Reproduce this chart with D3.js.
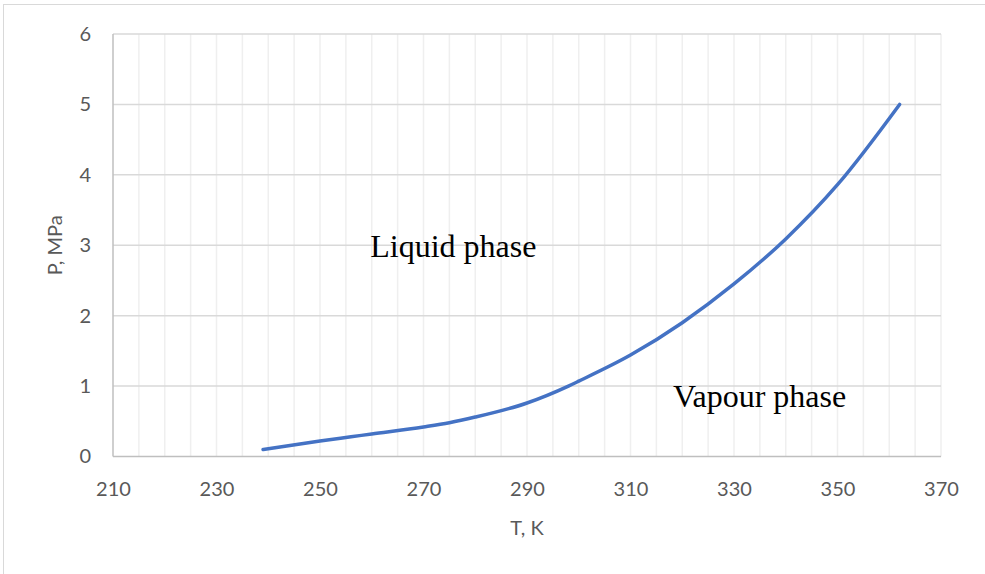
<!DOCTYPE html>
<html>
<head>
<meta charset="utf-8">
<script src="https://cdn.jsdelivr.net/npm/d3@7"></script>
<style>
  body { margin: 0; background: #fff; }
  svg { display: block; }
</style>
</head>
<body>
<svg width="985" height="574"></svg>
<script>
// saturation curve
const temps = [239, 250, 256, 260, 270, 275, 280, 290, 298, 300, 310, 320, 330, 340, 350, 362];
const pressures = [0.10, 0.22, 0.28, 0.32, 0.42, 0.48, 0.56, 0.76, 1.0, 1.07, 1.44, 1.90, 2.45, 3.09, 3.86, 5.0];
const xTicks = [210, 230, 250, 270, 290, 310, 330, 350, 370];
const yTicks = [0, 1, 2, 3, 4, 5, 6];
const xTitle = 'T, K';
const yTitle = 'P, MPa';
const labels = [
    { text: 'Liquid phase', t: 259.7, p: 2.83 },
    { text: 'Vapour phase', t: 318.2, p: 0.70 }
];

const svg = d3.select('svg');
const largura = +svg.attr('width');
const altura = +svg.attr('height');

const marg = { cima: 34, direita: 44, baixo: 117.5, esquerda: 113 };
const innerLargura = largura - marg.esquerda - marg.direita;
const innerAltura = altura - marg.cima - marg.baixo;

// outer frame of the chart object
svg.append('rect')
    .attr('x', 3.5).attr('y', 4.5)
    .attr('width', 1000).attr('height', 700)
    .attr('fill', 'none')
    .attr('stroke', '#d9d9d9');

const xEscala = d3.scaleLinear().domain([210, 370]).range([0, innerLargura]);
const yEscala = d3.scaleLinear().domain([0, 6]).range([innerAltura, 0]);

const g = svg.append('g')
    .attr('transform', `translate(${marg.esquerda},${marg.cima})`);

// minor vertical gridlines every 5 K
g.append('g').selectAll('line')
    .data(d3.range(215, 371, 5))
    .enter().append('line')
        .attr('x1', d => xEscala(d)).attr('x2', d => xEscala(d))
        .attr('y1', 0).attr('y2', innerAltura)
        .attr('stroke', '#efefef')
        .attr('stroke-width', 1.5);

// horizontal gridlines
g.append('g').selectAll('line')
    .data(yTicks.slice(1))
    .enter().append('line')
        .attr('x1', 0).attr('x2', innerLargura)
        .attr('y1', d => yEscala(d)).attr('y2', d => yEscala(d))
        .attr('stroke', '#d9d9d9')
        .attr('stroke-width', 1.5);

// axis lines
g.append('line')
    .attr('x1', 0).attr('x2', innerLargura)
    .attr('y1', innerAltura).attr('y2', innerAltura)
    .attr('stroke', '#bfbfbf').attr('stroke-width', 1.5);
g.append('line')
    .attr('x1', 0).attr('x2', 0)
    .attr('y1', 0).attr('y2', innerAltura)
    .attr('stroke', '#bfbfbf').attr('stroke-width', 1.5);

const fonte = 'Lato, "Open Sans", sans-serif';

const xAxis = g.append('g')
    .attr('transform', `translate(0,${innerAltura})`)
    .call(d3.axisBottom(xEscala).tickValues(xTicks).tickSize(0).tickPadding(25).tickFormat(d3.format('d')));
const yAxis = g.append('g')
    .call(d3.axisLeft(yEscala).tickValues(yTicks).tickSize(0).tickPadding(22).tickFormat(d3.format('d')));
[xAxis, yAxis].forEach(a => {
    a.select('.domain').remove();
    a.selectAll('text')
        .attr('fill', '#595959')
        .style('font-family', fonte)
        .style('font-size', '20px');
});

// axis titles
svg.append('text')
    .attr('x', marg.esquerda + innerLargura / 2)
    .attr('y', 535)
    .attr('text-anchor', 'middle')
    .attr('fill', '#595959')
    .style('font-family', fonte)
    .style('font-size', '20px')
    .text(xTitle);
svg.append('text')
    .attr('transform', `translate(62,${marg.cima + innerAltura / 2}) rotate(-90)`)
    .attr('text-anchor', 'middle')
    .attr('fill', '#595959')
    .style('font-family', fonte)
    .style('font-size', '20px')
    .text(yTitle);

// curve
const linha = d3.line()
    .x((d, i) => xEscala(temps[i]))
    .y(d => yEscala(d))
    .curve(d3.curveMonotoneX);
g.append('path')
    .datum(pressures)
    .attr('d', linha)
    .attr('fill', 'none')
    .attr('stroke', '#4472c4')
    .attr('stroke-width', 3.5)
    .attr('stroke-linecap', 'round');

// phase labels
g.selectAll('.phase').data(labels)
    .enter().append('text')
        .attr('class', 'phase')
        .attr('x', d => xEscala(d.t))
        .attr('y', d => yEscala(d.p))
        .attr('fill', '#000')
        .style('font-family', '"Liberation Serif", "Times New Roman", serif')
        .style('font-size', '32px')
        .text(d => d.text);
</script>
</body>
</html>
